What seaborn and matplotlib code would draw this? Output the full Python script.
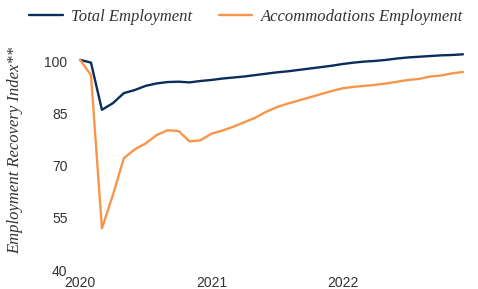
import numpy as np
import pandas as pd
import matplotlib
matplotlib.use("Agg")
import matplotlib.pyplot as plt
import seaborn as sns

# Monthly index, Jan 2020 - Dec 2022
months = list(range(36))
total_employment = [100.6, 99.8, 86.2, 88.1, 91.0, 91.9, 93.1, 93.8, 94.2, 94.3, 94.1, 94.5,
                    94.8, 95.2, 95.5, 95.8, 96.2, 96.6, 97.0, 97.3, 97.7, 98.1, 98.5, 98.9,
                    99.4, 99.8, 100.1, 100.3, 100.6, 101.0, 101.3, 101.5, 101.7, 101.9, 102.0, 102.2]
accommodations_employment = [100.6, 96.2, 52.0, 61.6, 72.2, 74.8, 76.5, 78.9, 80.3, 80.1, 77.1, 77.4,
                             79.3, 80.2, 81.3, 82.6, 83.9, 85.6, 87.0, 88.0, 88.9, 89.8, 90.7, 91.6,
                             92.4, 92.8, 93.1, 93.4, 93.8, 94.3, 94.8, 95.1, 95.8, 96.1, 96.7, 97.1]
series_names = ["Total Employment", "Accommodations Employment"]
year_ticks = [0, 12, 24]
year_labels = ["2020", "2021", "2022"]
y_ticks = [40, 55, 70, 85, 100]

df = pd.DataFrame({
    "month": months * 2,
    "value": total_employment + accommodations_employment,
    "series": [series_names[0]] * 36 + [series_names[1]] * 36,
})

sns.set_theme(style="white")
plt.rcParams["font.family"] = ["Liberation Sans", "DejaVu Sans"]

fig = plt.figure(figsize=(4.78, 2.89), dpi=100)
ax = fig.add_axes([0.156, 0.0657, 0.824, 0.768])

palette = {series_names[0]: "#0b2d5c", series_names[1]: "#f7964a"}
sns.lineplot(data=df, x="month", y="value", hue="series", palette=palette,
             linewidth=1.7, ax=ax, legend=False)

ax.set_xlim(-0.5, 35.5)
ax.set_ylim(40, 104)
ax.set_yticks(y_ticks)
ax.set_yticklabels([str(v) for v in y_ticks])
ax.set_xticks(year_ticks)
ax.set_xticklabels(year_labels)
ax.set_xlabel("")
ax.set_ylabel("")
for s in ax.spines.values():
    s.set_visible(False)
ax.tick_params(axis="both", length=0, labelsize=10, labelcolor="#333333")
ax.tick_params(axis="x", pad=4)
ax.tick_params(axis="y", pad=5)

fig.text(0.031, 0.48, "Employment Recovery Index**", rotation=90, ha="center", va="center",
         fontsize=12, fontstyle="italic", family=["Liberation Serif", "DejaVu Serif"], color="#333333")

from matplotlib.lines import Line2D
handles = [Line2D([0], [0], color=palette[n], lw=1.7) for n in series_names]
leg = fig.legend(handles, series_names, loc="center", bbox_to_anchor=(0.515, 0.941), ncol=2,
                 frameon=False, handlelength=2.0, columnspacing=1.6, handletextpad=0.5,
                 prop={"family": ["Liberation Serif", "DejaVu Serif"], "style": "italic", "size": 12})
for t in leg.get_texts():
    t.set_color("#333333")

fig.savefig("out.png", dpi=100)
